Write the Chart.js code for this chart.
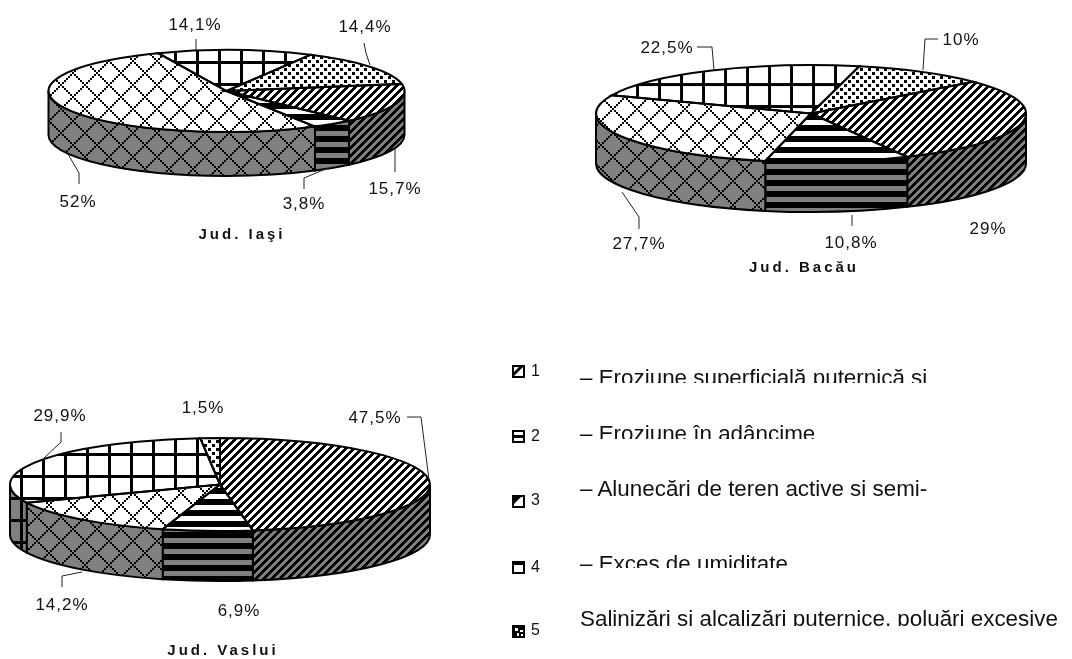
<!DOCTYPE html>
<html>
<head>
<meta charset="utf-8">
<script src="https://cdn.jsdelivr.net/npm/chart.js@4"></script>
<style>
  html, body { margin: 0; padding: 0; background: #fff; overflow: hidden; }
  body { width: 1072px; height: 659px; position: relative; font-family: "Liberation Sans", Arial, sans-serif; color: #111; }
  canvas.pie { position: absolute; left: 0; top: 0; }
  canvas.swatch { position: absolute; }
  .num, .txt { position: absolute; white-space: nowrap; overflow: hidden; }
  .num { font-size: 16px; line-height: 16px; }
  .txt { font-size: 22.4px; line-height: 26px; }
</style>
</head>
<body>
<canvas class="pie" id="pieIasi" width="1072" height="659"></canvas>
<canvas class="pie" id="pieBacau" width="1072" height="659"></canvas>
<canvas class="pie" id="pieVaslui" width="1072" height="659"></canvas>
<script>
const categories = ["1", "2", "3", "4", "5"];
const iasiValues = [15.7, 3.8, 52, 14.1, 14.4];
const bacauValues = [29, 10.8, 27.7, 22.5, 10];
const vasluiValues = [47.5, 6.9, 14.2, 29.9, 1.5];
const legendTexts = [
  "– Eroziune superficială puternică şi",
  "– Eroziune în adâncime",
  "– Alunecări de teren active şi semi-",
  "– Exces de umiditate",
  "Salinizări şi alcalizări puternice, poluări excesive"
];

// layout, all in page pixels
const iasiShape = { cx: 226.5, cy: 91, rx: 178, ry: 41, depth: 44, rotation: 80, gridY: 17 };
const bacauShape = { cx: 811, cy: 113.5, rx: 215, ry: 48.5, depth: 50, rotation: 49, gridY: 17 };
const vasluiShape = { cx: 220, cy: 484.5, rx: 210, ry: 46.5, depth: 50, rotation: 0, gridY: 13 };

const iasiLabelPos = [[395, 194], [304, 209], [78, 207], [195, 30], [365, 32]];
const bacauLabelPos = [[988, 234], [851, 248], [639, 249], [667, 53], [961, 45]];
const vasluiLabelPos = [[375, 423], [239, 616], [62, 610], [60, 421], [203, 413]];

const iasiLeaders = [
  [[395, 172], [395, 147]],
  [[304, 189], [304, 178], [328, 168]],
  [[79, 184], [79, 173], [68, 154]],
  [[196, 39], [196, 50]],
  [[364, 43], [366, 53], [370, 65]]
];
const bacauLeaders = [
  [[852, 226], [852, 215]],
  [[639, 229], [639, 217], [622, 192]],
  [[697, 47], [712, 47], [714, 70]],
  [[938, 39], [925, 39], [923, 70]]
];
const vasluiLeaders = [
  [[407, 417], [421, 417], [429, 480]],
  [[62, 587], [62, 576], [82, 572]],
  [[61, 432], [61, 442], [42, 460]]
];

const legendSwatchY = [365, 430, 495, 561, 625];
const legendNumY = [363, 428, 492, 559, 622];
const legendTextTop = [365, 421, 476, 551, 606];
const legendTextH = [18, 18, 20, 17, 20];

const WALL = "#808080";

// one repeating tile per category
function tile(kind, bg, gridY) {
  const size = { diag: 8, bars: 11, cross: 24, grid: 22, dots: 8 }[kind];
  const c = document.createElement("canvas");
  c.width = size;
  c.height = size;
  const g = c.getContext("2d");
  g.fillStyle = bg;
  g.fillRect(0, 0, size, size);
  g.fillStyle = "#000";
  for (let y = 0; y < size; y++) {
    for (let x = 0; x < size; x++) {
      let on = false;
      // cross lines step in 2px blocks like the old bitmap hatch
      const bx = x >> 1;
      const by = y >> 1;
      if (kind === "diag") on = (x + y) % 8 < 4;
      if (kind === "bars") on = y >= 4 && y < 10;
      if (kind === "cross") on = (bx + by) % 12 === 0 || (bx - by + 12) % 12 === 0;
      if (kind === "grid") on = (x + 2) % 22 < 3 || (y - gridY + 22) % 22 < 3;
      if (kind === "dots") on = (x < 3 && y < 3) || (x >= 4 && x < 7 && y >= 4 && y < 7);
      if (on) g.fillRect(x, y, 1, 1);
    }
  }
  return c;
}
const kinds = ["diag", "bars", "cross", "grid", "dots"];

function formatPct(v) {
  return String(v).replace(".", ",") + "%";
}

const pie3d = {
  id: "pie3d",
  beforeDatasetsDraw(chart, args, o) {
    const ctx = chart.ctx;
    const arcs = chart.getDatasetMeta(0).data;
    const R = arcs[0].outerRadius;
    const m = new DOMMatrix()
      .translate(o.cx, o.cy)
      .scale(o.rx / R, o.ry / R)
      .translate(-arcs[0].x, -arcs[0].y);
    // keep the hatching in page pixels although the arcs are squashed
    chart.data.datasets[0].backgroundColor.forEach((p) => p.setTransform(m.inverse()));

    // side wall, only the front half of every slice
    const onRim = (a) => ({ x: o.cx + o.rx * Math.cos(a), y: o.cy + o.ry * Math.sin(a) });
    arcs.forEach((arc, i) => {
      for (let k = -1; k <= 2; k++) {
        const a1 = Math.max(arc.startAngle, k * 2 * Math.PI);
        const a2 = Math.min(arc.endAngle, k * 2 * Math.PI + Math.PI);
        if (a2 <= a1) continue;
        const p2 = onRim(a2);
        const p1 = onRim(a1);
        ctx.beginPath();
        ctx.ellipse(o.cx, o.cy, o.rx, o.ry, 0, a1, a2);
        ctx.lineTo(p2.x, p2.y + o.depth);
        ctx.ellipse(o.cx, o.cy + o.depth, o.rx, o.ry, 0, a2, a1, true);
        ctx.lineTo(p1.x, p1.y);
        ctx.closePath();
        ctx.fillStyle = ctx.createPattern(tile(kinds[i], WALL, o.gridY), "repeat");
        ctx.fill();
        ctx.strokeStyle = "#000";
        ctx.lineWidth = 2;
        ctx.stroke();
      }
    });

    ctx.save();
    ctx.setTransform(m);
  },
  afterDatasetsDraw(chart, args, o) {
    const ctx = chart.ctx;
    ctx.restore();
    const arcs = chart.getDatasetMeta(0).data;

    // outlines of the top face
    ctx.strokeStyle = "#000";
    ctx.lineWidth = 2;
    arcs.forEach((arc) => {
      ctx.beginPath();
      ctx.moveTo(o.cx, o.cy);
      ctx.ellipse(o.cx, o.cy, o.rx, o.ry, 0, arc.startAngle, arc.endAngle);
      ctx.closePath();
      ctx.stroke();
    });

    // leader lines
    ctx.strokeStyle = "#222";
    ctx.lineWidth = 1;
    o.leaders.forEach((pts) => {
      ctx.beginPath();
      pts.forEach((p, i) => (i ? ctx.lineTo(p[0], p[1]) : ctx.moveTo(p[0], p[1])));
      ctx.stroke();
    });

    // percent labels
    ctx.fillStyle = "#111";
    ctx.textAlign = "center";
    ctx.textBaseline = "alphabetic";
    ctx.font = '17px "Liberation Sans", Arial, sans-serif';
    ctx.letterSpacing = "1px";
    chart.data.datasets[0].data.forEach((v, i) => {
      ctx.fillText(formatPct(v), o.labelPos[i][0], o.labelPos[i][1]);
    });

    // title under the pie
    ctx.font = 'bold 15px "Liberation Sans", Arial, sans-serif';
    ctx.letterSpacing = "3px";
    ctx.fillText(o.title.text, o.title.x, o.title.y);
    ctx.letterSpacing = "0px";
  }
};

function drawPie(id, values, shape, labelPos, leaders, title) {
  const patterns = kinds.map((k) =>
    document.createElement("canvas").getContext("2d").createPattern(tile(k, "#fff", shape.gridY), "repeat")
  );
  return new Chart(document.getElementById(id), {
    type: "pie",
    data: {
      labels: categories,
      datasets: [{ data: values, backgroundColor: patterns, borderWidth: 0 }]
    },
    plugins: [pie3d],
    options: {
      responsive: false,
      animation: false,
      events: [],
      rotation: shape.rotation,
      plugins: {
        legend: { display: false },
        tooltip: { enabled: false },
        pie3d: { ...shape, labelPos: labelPos, leaders: leaders, title: title }
      }
    }
  });
}

drawPie("pieIasi", iasiValues, iasiShape, iasiLabelPos, iasiLeaders, { text: "Jud. Iaşi", x: 242, y: 239 });
drawPie("pieBacau", bacauValues, bacauShape, bacauLabelPos, bacauLeaders, { text: "Jud. Bacău", x: 804, y: 272 });
drawPie("pieVaslui", vasluiValues, vasluiShape, vasluiLabelPos, vasluiLeaders, { text: "Jud. Vaslui", x: 223, y: 655 });

// tiny legend keys, the hatch is too coarse to show at this size
function drawSwatch(g, kind) {
  g.fillStyle = "#000";
  g.fillRect(0, 0, 13, 13);
  g.fillStyle = "#fff";
  if (kind === "diag") {
    g.fillRect(2, 2, 9, 9);
    g.fillStyle = "#000";
    g.beginPath();
    g.moveTo(2, 11); g.lineTo(2, 7); g.lineTo(7, 2); g.lineTo(11, 2); g.closePath();
    g.fill();
  } else if (kind === "bars") {
    g.fillRect(2, 2, 9, 3);
    g.fillRect(2, 8, 9, 3);
  } else if (kind === "cross") {
    g.fillRect(2, 2, 9, 9);
    g.fillStyle = "#000";
    g.beginPath();
    g.moveTo(2, 2); g.lineTo(9, 2); g.lineTo(2, 9); g.closePath();
    g.fill();
  } else if (kind === "grid") {
    g.fillRect(2, 4, 9, 7);
  } else {
    g.fillRect(3, 3, 3, 3);
    g.fillRect(8, 5, 3, 2);
    g.fillRect(5, 8, 2, 3);
    g.fillRect(9, 9, 2, 2);
  }
}

// legend on the right, the text rows are cut off at the bottom as in the source
categories.forEach((cat, i) => {
  const s = document.createElement("canvas");
  s.className = "swatch";
  s.width = 13;
  s.height = 13;
  s.style.left = "512px";
  s.style.top = legendSwatchY[i] + "px";
  drawSwatch(s.getContext("2d"), kinds[i]);
  document.body.appendChild(s);

  const n = document.createElement("div");
  n.className = "num";
  n.textContent = cat;
  n.style.left = "531px";
  n.style.top = legendNumY[i] + "px";
  document.body.appendChild(n);

  const t = document.createElement("div");
  t.className = "txt";
  t.textContent = legendTexts[i];
  t.style.left = "580px";
  t.style.top = legendTextTop[i] + "px";
  t.style.height = legendTextH[i] + "px";
  document.body.appendChild(t);
});
</script>
</body>
</html>
